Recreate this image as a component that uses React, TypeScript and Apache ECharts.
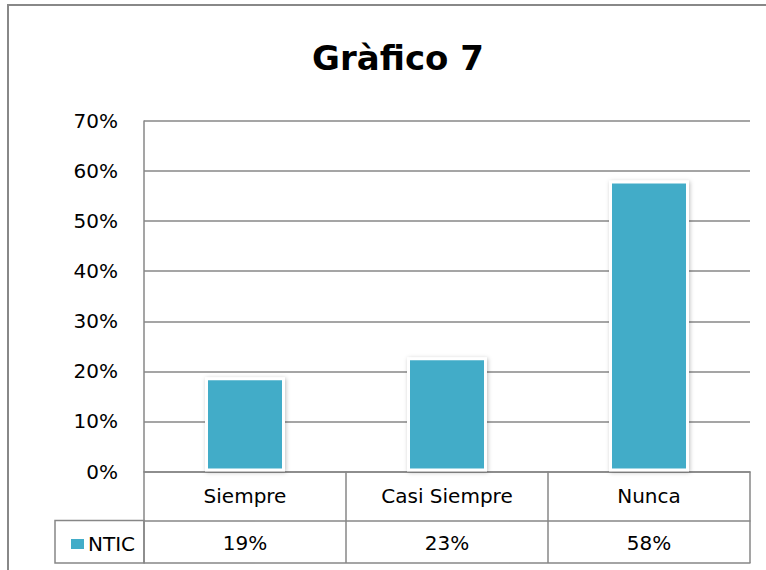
import React, { useEffect, useRef } from "react";
import * as echarts from "echarts";

const categories = ["Siempre", "Casi Siempre", "Nunca"];
const seriesName = "NTIC";
const values = [0.188, 0.228, 0.581];
const tableLabels = ["19%", "23%", "58%"];
const yTicks = [0, 0.1, 0.2, 0.3, 0.4, 0.5, 0.6, 0.7];

const FONT = "DejaVu Sans";
const GREY = "#878787";
const BAR = "#42acc8";

export default function App() {
  const ref = useRef<HTMLDivElement>(null);
  useEffect(() => {
    if (!ref.current) return;
    const chart = echarts.init(ref.current, undefined, { renderer: "svg" });
    const gridLeft = 144;
    const gridRight = 16;
    const gridTop = 121;
    const gridBottom = 98.5;
    const axisY = 570 - gridBottom;
    const rowH = 49;
    const tableBottom = 563;
    chart.setOption({
      animation: false,
      backgroundColor: "#ffffff",
      title: {
        text: "Gràfico 7",
        left: 393,
        top: 36,
        textAlign: "center",
        textStyle: { fontFamily: FONT, fontWeight: "bold", fontSize: 34, color: "#000" },
      },
      legend: {
        data: [seriesName],
        left: 64,
        top: 529,
        icon: "rect",
        itemWidth: 15,
        itemHeight: 12,
        itemGap: 0,
        textStyle: { fontFamily: FONT, fontSize: 20, color: "#000", padding: [0, 0, 0, -2] },
      },
      grid: { left: gridLeft, right: gridRight, top: gridTop, bottom: gridBottom },
      xAxis: [
        {
          type: "category",
          data: categories,
          position: "bottom",
          axisLine: { show: true, lineStyle: { color: GREY, width: 1.5 } },
          axisTick: {
            show: true,
            inside: false,
            length: tableBottom - axisY,
            lineStyle: { color: GREY, width: 1.5 },
          },
          axisLabel: { fontFamily: FONT, fontSize: 20, color: "#000", margin: 14 },
          splitLine: { show: false },
        },
        {
          type: "category",
          data: categories,
          position: "bottom",
          offset: rowH,
          axisLine: { show: true, lineStyle: { color: GREY, width: 1.5 } },
          axisTick: { show: false },
          axisLabel: {
            fontFamily: FONT,
            fontSize: 20,
            color: "#000",
            margin: 12,
            formatter: (_v: string, i: number) => tableLabels[i],
          },
        },
        {
          type: "category",
          data: categories,
          position: "bottom",
          offset: tableBottom - axisY,
          axisLine: { show: true, lineStyle: { color: GREY, width: 1.5 } },
          axisTick: { show: false },
          axisLabel: { show: false },
        },
      ],
      yAxis: {
        type: "value",
        min: 0,
        max: 0.7,
        interval: 0.1,
        axisLine: { show: true, lineStyle: { color: GREY, width: 1.5 } },
        axisTick: { show: false },
        axisLabel: {
          fontFamily: FONT,
          fontSize: 20,
          color: "#000",
          margin: 26,
          formatter: (v: number) => {
            const t = yTicks.find((x) => Math.abs(x - v) < 1e-6);
            return `${Math.round((t ?? v) * 100)}%`;
          },
        },
        splitLine: { show: true, lineStyle: { color: GREY, width: 1.5 } },
      },
      series: [
        {
          name: seriesName,
          type: "bar",
          xAxisIndex: 0,
          data: values,
          barWidth: 80,
          itemStyle: {
            color: BAR,
            borderColor: "#ffffff",
            borderWidth: 3,
            shadowBlur: 4,
            shadowColor: "rgba(0,0,0,0.25)",
            shadowOffsetX: 1,
            shadowOffsetY: 1,
          },
        },
      ],
      graphic: [
        {
          type: "rect",
          shape: { x: 8, y: 5, width: 800, height: 620 },
          style: { fill: "none", stroke: "#888888", lineWidth: 2 },
          silent: true,
          z: 0,
        },
        {
          type: "rect",
          shape: { x: 55, y: axisY + rowH, width: gridLeft - 55, height: tableBottom - axisY - rowH },
          style: { fill: "none", stroke: GREY, lineWidth: 1.5 },
          silent: true,
        },
      ],
    });
    return () => chart.dispose();
  }, []);
  return (
    <div
      ref={ref}
      style={{ position: "fixed", left: 0, top: 0, width: 766, height: 570, background: "#fff" }}
    />
  );
}
